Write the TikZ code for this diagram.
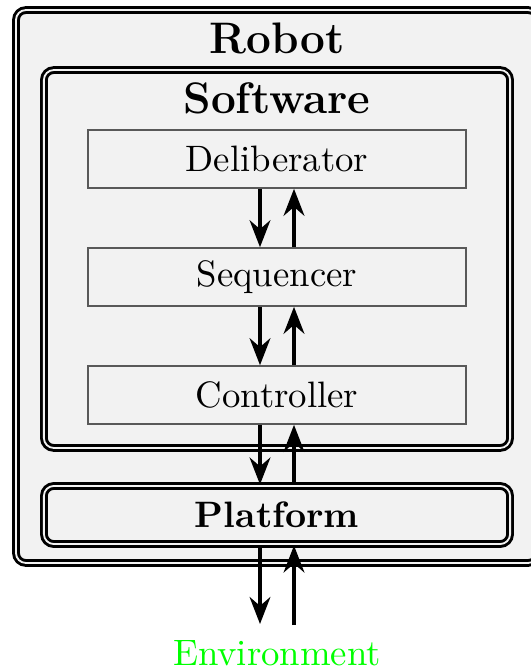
\documentclass[tikz,border=0pt]{standalone}
\usetikzlibrary{arrows.meta,calc}
\begin{document}
\begin{tikzpicture}[x=0.272pt,y=-0.272pt,
  dbl/.style={draw, line width=0.8pt, double=gray!10, double distance=0.5pt, rounded corners=2.7pt, fill=gray!10},
  layerbox/.style={draw=black!65, line width=0.4pt, fill=gray!10, minimum width=102.8pt, minimum height=15.8pt, inner sep=0pt},
  flow/.style={line width=1.2pt, -{Stealth[length=7.3pt,width=5.6pt]}},
  title/.style={font=\large\bfseries, anchor=base, inner sep=0pt}]
\useasboundingbox (0,0) rectangle (531,668);
\node[dbl, minimum width=142.0pt, minimum height=150.4pt, inner sep=0pt] (robot) at (277,286.5) {};
\node[title] (robottitle) at (277,53) {Robot};
\node[dbl, minimum width=126.8pt, minimum height=102.8pt, inner sep=0pt] (software) at (277,259) {};
\node[title] (softwaretitle) at (277,113) {Software};
\node[layerbox] (delib) at (277,159) {Deliberator};
\node[layerbox] (seq) at (277,277) {Sequencer};
\node[layerbox] (ctrl) at (277,395) {Controller};
\node[dbl, minimum width=126.8pt, minimum height=15.8pt, inner sep=0pt, font=\bfseries] (plat) at (277,515) {Platform};
\node[anchor=base, text=green, inner sep=0pt] (env) at (277,665) {Environment};
\coordinate (envtop) at (277,624);
% arrows
\draw[flow] ($(delib.south)+(-17,0)$) -- ($(seq.north)+(-17,0)$);
\draw[flow] ($(seq.north)+(17,0)$) -- ($(delib.south)+(17,0)$);
\draw[flow] ($(seq.south)+(-17,0)$) -- ($(ctrl.north)+(-17,0)$);
\draw[flow] ($(ctrl.north)+(17,0)$) -- ($(seq.south)+(17,0)$);
\draw[flow] ($(ctrl.south)+(-17,0)$) -- ($(plat.north)+(-17,0)$);
\draw[flow] ($(plat.north)+(17,0)$) -- ($(ctrl.south)+(17,0)$);
\draw[flow] ($(plat.south)+(-17,0)$) -- ($(envtop)+(-17,0)$);
\draw[flow] ($(envtop)+(17,1)$) -- ($(plat.south)+(17,0)$);
\end{tikzpicture}
\end{document}
